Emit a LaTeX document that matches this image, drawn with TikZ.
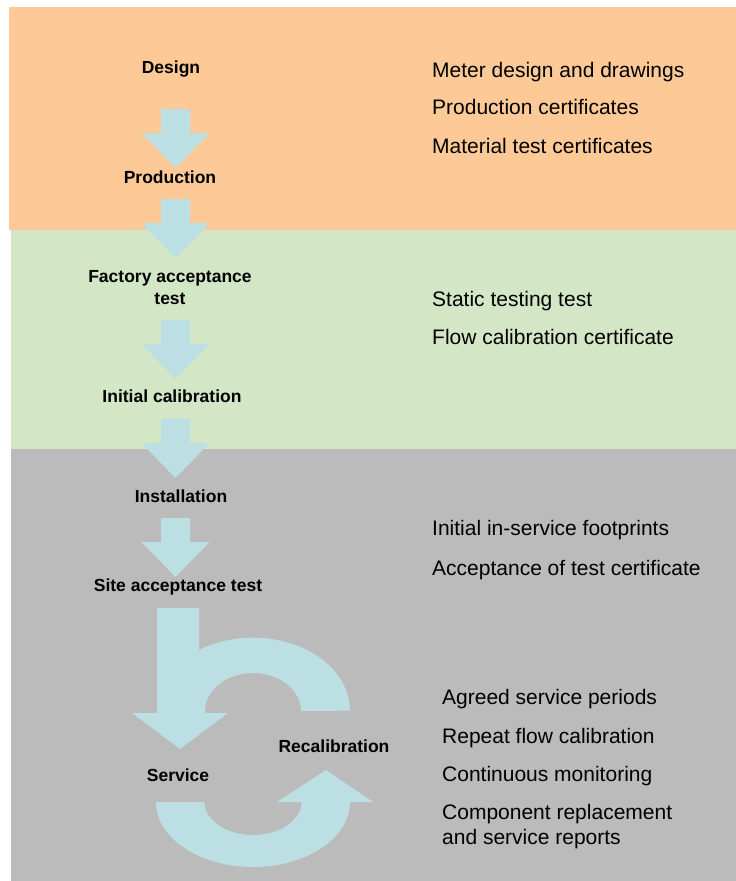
\documentclass[tikz,border=0pt]{standalone}
\usepackage{fontspec}
\setmainfont{Liberation Sans}
\definecolor{bandorange}{HTML}{FDCA97}
\definecolor{bandgreen}{HTML}{D3E6C6}
\definecolor{bandgray}{HTML}{BBBBBB}
\definecolor{arrowblue}{HTML}{BCDFE3}
\begin{document}
\begin{tikzpicture}[x=1pt,y=-1pt,
  flow/.style={fill=arrowblue,draw=none},
  stage/.style={font=\fontsize{17.5}{22}\selectfont\bfseries,inner sep=0pt,align=center},
  record/.style={font=\fontsize{21}{25}\selectfont,anchor=base west,inner sep=0pt},
  pics/downarrow/.style={code={
    \fill[flow] (-14.5,0) -- (14.5,0) -- (14.5,24) -- (34,24) -- (0,59)
      -- (-34,24) -- (-14.5,24) -- cycle;}}]
\useasboundingbox (0,0) rectangle (736,881);

% lifecycle phases
\fill[bandorange] (9,7) rectangle (736,230);
\fill[bandgreen] (11,230) rectangle (736,449);
\fill[bandgray] (11,449) rectangle (736,881);

% straight steps
\pic at (175.5,109) {downarrow};
\pic at (175.5,199) {downarrow};
\pic at (175.5,320) {downarrow};
\pic at (175.5,419) {downarrow};
\pic at (175.5,518) {downarrow};

% service / recalibration loop: upper half with the arrow into service
\fill[flow] (157,608) -- (199,608) -- (199,650)
  arc[start angle=-123.8,end angle=0,x radius=97,y radius=73]
  -- (301,711) arc[start angle=0,end angle=-180,x radius=48,y radius=38]
  -- (205,713) -- (228,713) -- (180,749) -- (132,713) -- (157,713) -- cycle;

% service / recalibration loop: lower half with the arrow into recalibration
\fill[flow] (156,802) arc[start angle=180,end angle=0,x radius=97,y radius=65]
  -- (373,802) -- (326,770) -- (277,802) -- (301.5,802)
  arc[start angle=0,end angle=180,x radius=48.5,y radius=33] -- cycle;

% stage labels
\node[stage,anchor=base] (design) at (171,73) {Design};
\node[stage,anchor=base] (production) at (170,183) {Production};
\node[stage] (fat) at (170,288) {Factory acceptance\\test};
\node[stage,anchor=base] (initcal) at (172,402) {Initial calibration};
\node[stage,anchor=base] (install) at (181,502) {Installation};
\node[stage,anchor=base] (sat) at (178,591) {Site acceptance test};
\node[stage,anchor=base] (service) at (178,781) {Service};
\node[stage,anchor=base] (recal) at (334,752) {Recalibration};

% records kept in each phase
\node[record] (r1) at (432,77) {Meter design and drawings};
\node[record] (r2) at (432,114) {Production certificates};
\node[record] (r3) at (432,153) {Material test certificates};
\node[record] (r4) at (432,306) {Static testing test};
\node[record] (r5) at (432,344) {Flow calibration certificate};
\node[record] (r6) at (432,535) {Initial in-service footprints};
\node[record] (r7) at (432,575) {Acceptance of test certificate};
\node[record] (r8) at (442,704) {Agreed service periods};
\node[record] (r9) at (442,743) {Repeat flow calibration};
\node[record] (r10) at (442,781) {Continuous monitoring};
\node[record] (r11) at (442,819) {Component replacement};
\node[record] (r12) at (442,844) {and service reports};
\end{tikzpicture}
\end{document}
